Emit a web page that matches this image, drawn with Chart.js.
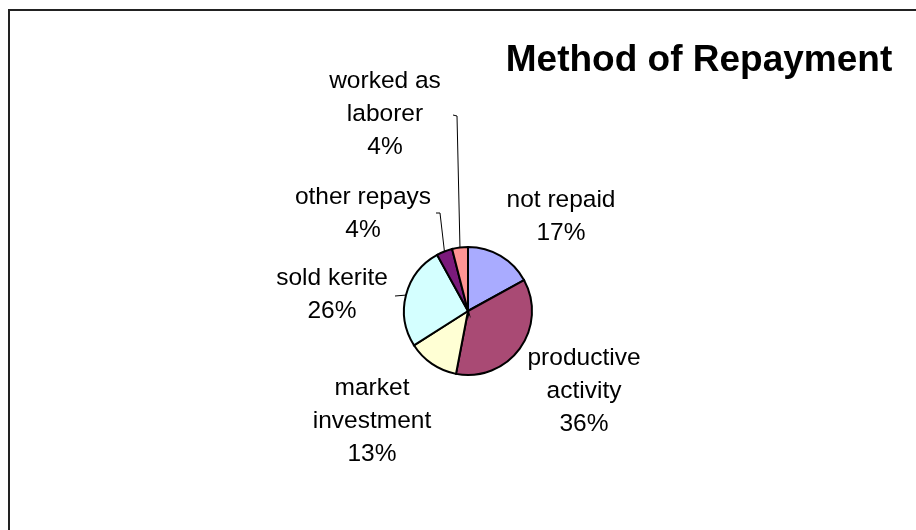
<!DOCTYPE html>
<html>
<head>
<meta charset="utf-8">
<title>Method of Repayment</title>
<script src="https://cdn.jsdelivr.net/npm/chart.js@4"></script>
<style>
  html, body { margin: 0; padding: 0; background: #fff; }
  #wrap { position: relative; width: 916px; height: 530px; overflow: hidden; }
  #frame {
    position: absolute; left: 8px; top: 9px; width: 1000px; height: 1000px;
    border-top: 2px solid #222; border-left: 2px solid #222;
  }
  canvas { position: absolute; left: 0; top: 0; }
</style>
</head>
<body>
<div id="wrap">
  <div id="frame"></div>
  <canvas id="pie" width="916" height="530"></canvas>
</div>
<script>
const title = 'Method of Repayment';
const categories = ['not repaid', 'productive activity', 'market investment', 'sold kerite', 'other repays', 'worked as laborer'];
const shares = [17, 36, 13, 26, 4, 4];
const sliceColors = ['#a9abff', '#a94a74', '#ffffd4', '#d4ffff', '#7b1a7b', '#ff9494'];

// where each label block sits: centre x, first baseline, line breaks
const labelLayout = [
  { x: 561, y: 207, lines: ['not repaid'] },
  { x: 584, y: 365, lines: ['productive', 'activity'] },
  { x: 372, y: 395, lines: ['market', 'investment'] },
  { x: 332, y: 285, lines: ['sold kerite'] },
  { x: 363, y: 204, lines: ['other repays'], leader: [[436, 213], [440, 213]] },
  { x: 385, y: 88, lines: ['worked as', 'laborer'], leader: [[453, 115], [457, 116]] }
];
const lineGap = 33;

const labelPlugin = {
  id: 'sliceLabels',
  afterDatasetsDraw(chart) {
    const ctx = chart.ctx;
    const meta = chart.getDatasetMeta(0);
    const total = shares.reduce((a, b) => a + b, 0);
    ctx.save();
    ctx.fillStyle = '#000';
    ctx.textAlign = 'center';
    ctx.textBaseline = 'alphabetic';
    ctx.font = '24.5px "Liberation Sans", Arial, sans-serif';
    labelLayout.forEach((lab, i) => {
      const pct = Math.round(shares[i] / total * 100) + '%';
      const lines = lab.lines.concat([pct]);
      lines.forEach((t, k) => ctx.fillText(t, lab.x, lab.y + k * lineGap));

      if (lab.leader) {
        const arc = meta.data[i];
        const p = arc.getProps(['x', 'y', 'startAngle', 'endAngle', 'outerRadius'], true);
        const mid = (p.startAngle + p.endAngle) / 2;
        ctx.strokeStyle = '#000';
        ctx.lineWidth = 1;
        ctx.beginPath();
        ctx.moveTo(lab.leader[0][0], lab.leader[0][1]);
        ctx.lineTo(lab.leader[1][0], lab.leader[1][1]);
        ctx.lineTo(p.x + Math.cos(mid) * p.outerRadius, p.y + Math.sin(mid) * p.outerRadius);
        ctx.stroke();
      }
    });
    // small tick by sold kerite
    const ks = meta.data[3].getProps(['x', 'y', 'startAngle', 'endAngle', 'outerRadius'], true);
    const km = (ks.startAngle + ks.endAngle) / 2;
    ctx.beginPath();
    ctx.moveTo(395, 296);
    ctx.lineTo(ks.x + Math.cos(km) * ks.outerRadius, ks.y + Math.sin(km) * ks.outerRadius);
    ctx.stroke();

    ctx.font = 'bold 37px "Liberation Sans", Arial, sans-serif';
    ctx.fillText(title, 699, 71);
    ctx.restore();
  }
};

new Chart(document.getElementById('pie').getContext('2d'), {
  type: 'pie',
  data: {
    labels: categories,
    datasets: [{
      data: shares,
      backgroundColor: sliceColors,
      borderColor: '#000',
      borderWidth: 2,
      borderJoinStyle: 'miter'
    }]
  },
  options: {
    responsive: false,
    animation: false,
    layout: { padding: { left: 403, right: 383, top: 246, bottom: 154 } },
    plugins: {
      legend: { display: false },
      tooltip: { enabled: false },
      title: { display: false }
    }
  },
  plugins: [labelPlugin]
});
</script>
</body>
</html>
